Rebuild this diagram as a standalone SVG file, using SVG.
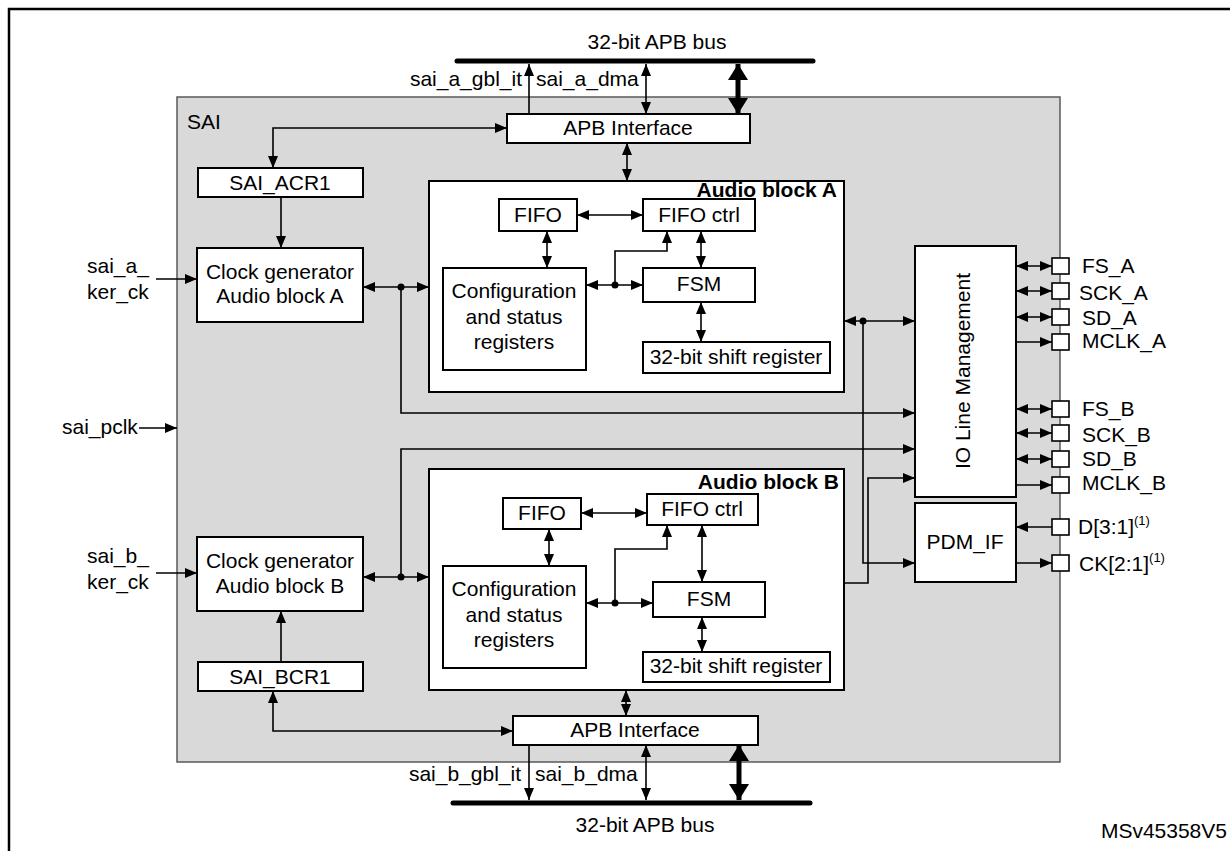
<svg xmlns="http://www.w3.org/2000/svg" width="1230" height="851" viewBox="0 0 1230 851">
<defs>
<style>
text{font-family:"Liberation Sans",Arial,sans-serif;font-size:21px;fill:#000}
.c{text-anchor:middle}
.e{text-anchor:end}
.b{font-weight:bold}
.box{fill:#fff;stroke:#000;stroke-width:2}
.ln{fill:none;stroke:#000;stroke-width:1.6}
.d{marker-start:url(#a);marker-end:url(#a)}
.s{marker-end:url(#a)}
.th{fill:none;stroke:#000;stroke-width:5;marker-start:url(#big);marker-end:url(#big)}
.bus{stroke:#000;stroke-width:5;stroke-linecap:round}
.dot{fill:#000}
.pin{fill:#fff;stroke:#000;stroke-width:1.6}
</style>
<marker id="a" viewBox="0 0 12 10" refX="12" refY="5" markerWidth="12" markerHeight="10" markerUnits="userSpaceOnUse" orient="auto-start-reverse"><path d="M0,0L12,5L0,10z"/></marker>
<marker id="big" viewBox="0 0 16 20" refX="16" refY="10" markerWidth="16" markerHeight="20" markerUnits="userSpaceOnUse" orient="auto-start-reverse"><path d="M0,0L16,10L0,20z"/></marker>
</defs>
<rect width="1230" height="851" fill="#fff"/>
<path d="M9,851V9H1230" fill="none" stroke="#000" stroke-width="2.5"/>

<g id="sai">
<rect x="177" y="97" width="883" height="665" fill="#d9d9d9" stroke="#595959" stroke-width="1.5"/>
<text x="187" y="129">SAI</text>
</g>

<g id="bus_top">
<line class="bus" x1="457" y1="61" x2="813" y2="61"/>
<text class="c" x="657" y="49">32-bit APB bus</text>
</g>
<g id="bus_bottom">
<line class="bus" x1="453" y1="803" x2="810" y2="803"/>
<text class="c" x="645" y="832">32-bit APB bus</text>
</g>

<g id="apb_a"><rect class="box" x="507" y="114" width="243" height="29"/><text class="c" x="628" y="135">APB Interface</text></g>
<g id="apb_b"><rect class="box" x="513" y="716" width="245" height="29"/><text class="c" x="635" y="737">APB Interface</text></g>
<g id="acr1"><rect class="box" x="198" y="168" width="165" height="29"/><text class="c" x="280" y="190">SAI_ACR1</text></g>
<g id="bcr1"><rect class="box" x="198" y="662" width="165" height="29"/><text class="c" x="280" y="684">SAI_BCR1</text></g>
<g id="clk_a"><rect class="box" x="197" y="248" width="166" height="74"/><text class="c" x="280" y="279">Clock generator</text><text class="c" x="280" y="303">Audio block A</text></g>
<g id="clk_b"><rect class="box" x="197" y="537" width="166" height="74"/><text class="c" x="280" y="568">Clock generator</text><text class="c" x="280" y="593">Audio block B</text></g>

<g id="audio_a">
<rect class="box" x="429" y="181" width="415" height="211"/>
<text class="e b" x="837" y="197">Audio block A</text>
</g>
<g id="fifo_a"><rect class="box" x="499" y="199" width="78" height="32"/><text class="c" x="538" y="222">FIFO</text></g>
<g id="fifoctrl_a"><rect class="box" x="643" y="199" width="112" height="32"/><text class="c" x="699" y="222">FIFO ctrl</text></g>
<g id="cfg_a"><rect class="box" x="443" y="268" width="143" height="102"/><text class="c" x="514" y="298">Configuration</text><text class="c" x="514" y="324">and status</text><text class="c" x="514" y="349">registers</text></g>
<g id="fsm_a"><rect class="box" x="643" y="268" width="112" height="34"/><text class="c" x="699" y="291">FSM</text></g>
<g id="shift_a"><rect class="box" x="643" y="342" width="187" height="31"/><text class="c" x="736" y="364">32-bit shift register</text></g>

<g id="audio_b">
<rect class="box" x="429" y="469" width="415" height="221"/>
<text class="e b" x="839" y="489">Audio block B</text>
</g>
<g id="fifo_b"><rect class="box" x="503" y="498" width="78" height="31"/><text class="c" x="542" y="520">FIFO</text></g>
<g id="fifoctrl_b"><rect class="box" x="647" y="494" width="111" height="31"/><text class="c" x="702" y="516">FIFO ctrl</text></g>
<g id="cfg_b"><rect class="box" x="443" y="566" width="143" height="102"/><text class="c" x="514" y="596">Configuration</text><text class="c" x="514" y="622">and status</text><text class="c" x="514" y="647">registers</text></g>
<g id="fsm_b"><rect class="box" x="653" y="582" width="112" height="35"/><text class="c" x="709" y="606">FSM</text></g>
<g id="shift_b"><rect class="box" x="643" y="652" width="187" height="30"/><text class="c" x="736" y="673">32-bit shift register</text></g>

<g id="io"><rect class="box" x="915" y="246" width="101" height="251"/><text class="c" transform="translate(970,371) rotate(-90)">IO Line Management</text></g>
<g id="pdm"><rect class="box" x="915" y="503" width="101" height="79"/><text class="c" x="965" y="549">PDM_IF</text></g>

<g id="connectors">
<path class="ln s" d="M529,114V64"/>
<path class="ln d" stroke-width="2" d="M646,64V114"/>
<path class="th" d="M738,64V114"/>
<path class="ln d" d="M507,128H273V168"/>
<path class="ln d" d="M627,143V181"/>
<path class="ln s" d="M281,197V248"/>
<path class="ln s" d="M156,279H197"/>
<path class="ln d" d="M363,287H429"/>
<path class="ln s" d="M401,287V413H915"/>
<path class="ln d" d="M577,215H643"/>
<path class="ln d" d="M547,231V268"/>
<path class="ln d" d="M586,285H643"/>
<path class="ln s" d="M615,285V251H667V231"/>
<path class="ln d" d="M701,231V268"/>
<path class="ln d" d="M701,302V342"/>
<path class="ln d" d="M844,321H915"/>
<path class="ln s" d="M863,321V563H915"/>
<path class="ln s" d="M139,428H177"/>
<path class="ln d" d="M363,577H429"/>
<path class="ln s" d="M401,577V449H915"/>
<path class="ln s" d="M844,583H868V478H915"/>
<path class="ln d" d="M581,513H647"/>
<path class="ln d" d="M549,529V566"/>
<path class="ln d" d="M586,603H653"/>
<path class="ln s" d="M615,603V549H667V525"/>
<path class="ln d" d="M702,525V582"/>
<path class="ln d" d="M702,617V652"/>
<path class="ln s" d="M156,573H197"/>
<path class="ln s" d="M281,662V611"/>
<path class="ln d" d="M513,731H273V691"/>
<path class="ln d" d="M626,690V716"/>
<path class="ln s" d="M529,745V800"/>
<path class="ln d" stroke-width="2" d="M646,745V800"/>
<path class="th" d="M739,745V800"/>
<path class="ln d" d="M1016,266H1052"/>
<path class="ln d" d="M1016,291H1052"/>
<path class="ln d" d="M1016,317H1052"/>
<path class="ln s" d="M1016,342H1052"/>
<path class="ln d" d="M1016,409H1052"/>
<path class="ln d" d="M1016,433H1052"/>
<path class="ln d" d="M1016,459H1052"/>
<path class="ln s" d="M1016,485H1052"/>
<path class="ln s" d="M1052,527H1016"/>
<path class="ln s" d="M1016,563H1052"/>
<circle class="dot" cx="401" cy="287" r="3.5"/>
<circle class="dot" cx="615" cy="285" r="3.5"/>
<circle class="dot" cx="863" cy="321" r="3.5"/>
<circle class="dot" cx="401" cy="577" r="3.5"/>
<circle class="dot" cx="615" cy="603" r="3.5"/>
</g>

<g id="pins">
<rect class="pin" x="1052" y="258" width="17" height="16"/>
<rect class="pin" x="1052" y="283" width="17" height="16"/>
<rect class="pin" x="1052" y="309" width="17" height="16"/>
<rect class="pin" x="1052" y="334" width="17" height="16"/>
<rect class="pin" x="1052" y="401" width="17" height="16"/>
<rect class="pin" x="1052" y="425" width="17" height="16"/>
<rect class="pin" x="1052" y="451" width="17" height="16"/>
<rect class="pin" x="1052" y="477" width="17" height="16"/>
<rect class="pin" x="1052" y="519" width="17" height="16"/>
<rect class="pin" x="1052" y="555" width="17" height="16"/>
<text x="1082" y="273">FS_A</text>
<text x="1079" y="300">SCK_A</text>
<text x="1082" y="325">SD_A</text>
<text x="1082" y="348">MCLK_A</text>
<text x="1082" y="416">FS_B</text>
<text x="1082" y="442">SCK_B</text>
<text x="1082" y="466">SD_B</text>
<text x="1082" y="490">MCLK_B</text>
<text x="1078" y="534">D[3:1]<tspan font-size="13" dy="-9">(1)</tspan></text>
<text x="1079" y="571">CK[2:1]<tspan font-size="13" dy="-9">(1)</tspan></text>
</g>

<g id="labels">
<text class="e" x="522" y="86">sai_a_gbl_it</text>
<text x="536" y="86">sai_a_dma</text>
<text class="e" x="521" y="781">sai_b_gbl_it</text>
<text x="535" y="781">sai_b_dma</text>
<text x="87" y="273">sai_a_</text>
<text x="87" y="299">ker_ck</text>
<text x="87" y="563">sai_b_</text>
<text x="87" y="589">ker_ck</text>
<text x="62" y="434">sai_pclk</text>
<text class="e" x="1227" y="838" font-size="14">MSv45358V5</text>
</g>
</svg>
